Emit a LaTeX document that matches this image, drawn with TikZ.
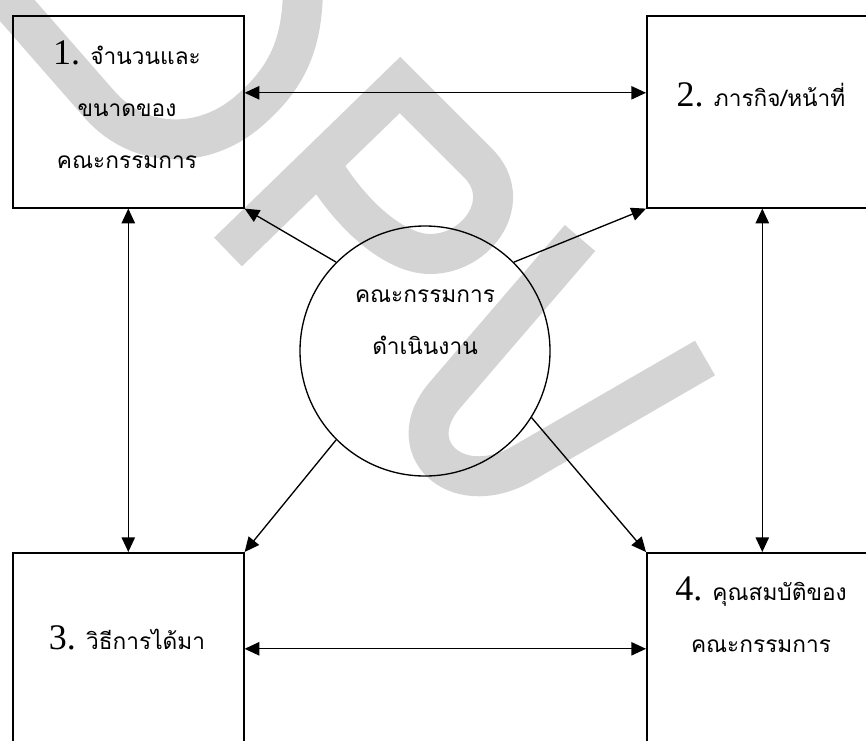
\documentclass[tikz,border=0pt]{standalone}
\usepackage{fontspec}
\newfontfamily\thaifont[Script=Thai]{Loma}
\newfontfamily\numfont{Liberation Serif}
\usetikzlibrary{arrows.meta}
\newcommand{\nm}[1]{{\numfont\fontsize{27}{27}\selectfont #1}}

\begin{document}
\begin{tikzpicture}[x=0.75pt,y=-0.75pt,
    box/.style={draw,line width=1.2pt,minimum width=173.25pt,minimum height=144pt,inner sep=0pt,anchor=north west},
    hub/.style={draw,circle,line width=1pt,minimum size=187.5pt,inner sep=0pt},
    txt/.style={align=center,font=\thaifont\fontsize{17}{39}\selectfont},
    link/.style={line width=1pt,-{Triangle[length=11pt,width=10pt]}},
    both/.style={line width=1pt,{Triangle[length=11pt,width=10pt]}-{Triangle[length=11pt,width=10pt]}}]
  \useasboundingbox (0,0) rectangle (866,740);
  \clip (0,0) rectangle (866,740);
  % watermark
  \begin{scope}[draw=black!17,line width=30pt]
    \draw (-5,-15) -- (100,105) .. controls (140,150) and (205,150) .. (250,110) .. controls (290,75) and (303,40) .. (303,-15);
    \draw (228,252) -- (400,85) -- (478,163) .. controls (515,200) and (478,254) .. (430,254) .. controls (395,254) and (350,215) .. (320,163);
    \draw (580,238) -- (445,395) .. controls (400,447) and (455,500) .. (520,465) -- (705,358);
  \end{scope}
  % boxes
  \node[box] (b1) at (12,15) {};
  \node[box] (b2) at (646,15) {};
  \node[box] (b3) at (12,552) {};
  \node[box] (b4) at (646,552) {};
  \node[hub] (mid) at (425,351) {};
  % texts
  \node[txt] (t1) at (127,105) {\nm{1.} จำนวนและ\\ขนาดของ\\คณะกรรมการ};
  \node[txt] (t2) at (761,95) {\nm{2.} ภารกิจ/หน้าที่};
  \node[txt] (t3) at (127,638) {\nm{3.} วิธีการได้มา};
  \node[txt] (t4) at (761,615) {\nm{4.} คุณสมบัติของ\\คณะกรรมการ};
  \node[txt] (tm) at (425,322) {คณะกรรมการ\\ดำเนินงาน};
  % arrows
  \draw[both] ([yshift=14.25pt]b1.east) -- ([yshift=14.25pt]b2.west);
  \draw[both] (b1.south) -- (b3.north);
  \draw[both] (b2.south) -- (b4.north);
  \draw[both] (b3.east) -- (b4.west);
  \draw[link] (mid.135) -- (b1.south east);
  \draw[link] (mid.45) -- (b2.south west);
  \draw[link] (mid.225) -- (b3.north east);
  \draw[link] (mid.-32) -- (b4.north west);
\end{tikzpicture}
\end{document}
